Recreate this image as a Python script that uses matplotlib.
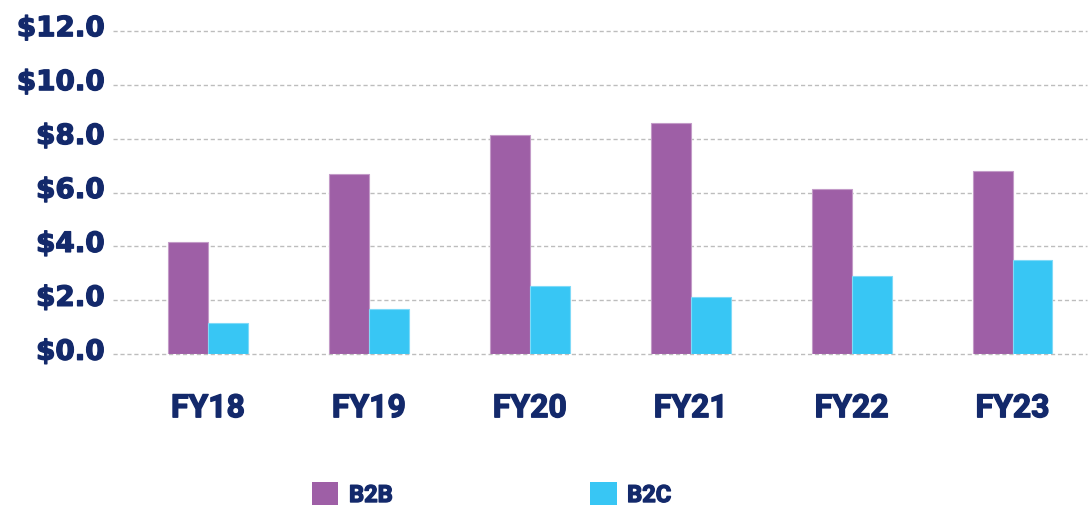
import numpy as np
import matplotlib
matplotlib.use("Agg")
import matplotlib.pyplot as plt
import matplotlib.patheffects as pe
from matplotlib.patches import Patch
from matplotlib.transforms import ScaledTranslation

# --- data (USD) ---
years = ["FY18", "FY19", "FY20", "FY21", "FY22", "FY23"]
b2b = [4.15, 6.69, 8.14, 8.56, 6.12, 6.81]
b2c = [1.15, 1.68, 2.54, 2.12, 2.90, 3.50]
y_ticks = [0, 2, 4, 6, 8, 10, 12]

NAVY = "#13296B"
PURPLE = "#9E5FA6"
CYAN = "#38C6F4"

fig = plt.figure(figsize=(10.89, 5.07), dpi=100)
ax = fig.add_axes([0.1038, 0.3012, 0.894, 0.6382])

x = np.arange(len(years))
w = 0.248
ax.bar(x - w / 2, b2b, w, color=PURPLE, edgecolor="#C39BC8", linewidth=0.8, zorder=3)
ax.bar(x + w / 2, b2c, w, color=CYAN, edgecolor="#7FDAF8", linewidth=0.8, zorder=3)

ax.set_xlim(-0.59, 5.46)
ax.set_ylim(0, 12)
ax.set_yticks(y_ticks)
ax.set_yticklabels([f"${v:.1f}" for v in y_ticks])
ax.set_xticks(x)
ax.set_xticklabels(years)

for s in ax.spines.values():
    s.set_visible(False)
ax.yaxis.grid(True, color="#BDBDBD", linestyle=(0, (3, 2)), linewidth=1.0, zorder=0)
for gl in ax.get_ygridlines():
    gl.set_clip_on(False)
ax.tick_params(axis="both", length=0)
ax.tick_params(axis="y", pad=6)
ax.tick_params(axis="x", pad=28)

thick = [pe.withStroke(linewidth=1.0, foreground=NAVY)]
for lbl in ax.get_yticklabels():
    lbl.set_fontfamily("DejaVu Sans")
    lbl.set_fontweight("bold")
    lbl.set_fontsize(20)
    lbl.set_color(NAVY)
    lbl.set_path_effects(thick)
    lbl.set_transform(lbl.get_transform() + ScaledTranslation(0, 4 / 72, fig.dpi_scale_trans))
for lbl in ax.get_xticklabels():
    lbl.set_fontfamily(["Roboto", "DejaVu Sans"])
    lbl.set_fontweight("bold")
    lbl.set_fontsize(23)
    lbl.set_color(NAVY)
    lbl.set_path_effects(thick)

handles = [Patch(facecolor=PURPLE, label="B2B"), Patch(facecolor=CYAN, label="B2C")]
leg = fig.legend(handles=handles, loc="lower left", bbox_to_anchor=(0.2865, 0.0),
                 ncol=2, frameon=False, borderpad=0, borderaxespad=0,
                 handlelength=1.12, handleheight=1.12, handletextpad=0.45,
                 columnspacing=8.35,
                 prop={"family": ["Roboto", "DejaVu Sans"],
                       "weight": "bold", "size": 17})
for t in leg.get_texts():
    t.set_color(NAVY)
    t.set_path_effects(thick)

fig.savefig("out.png", dpi=100)
